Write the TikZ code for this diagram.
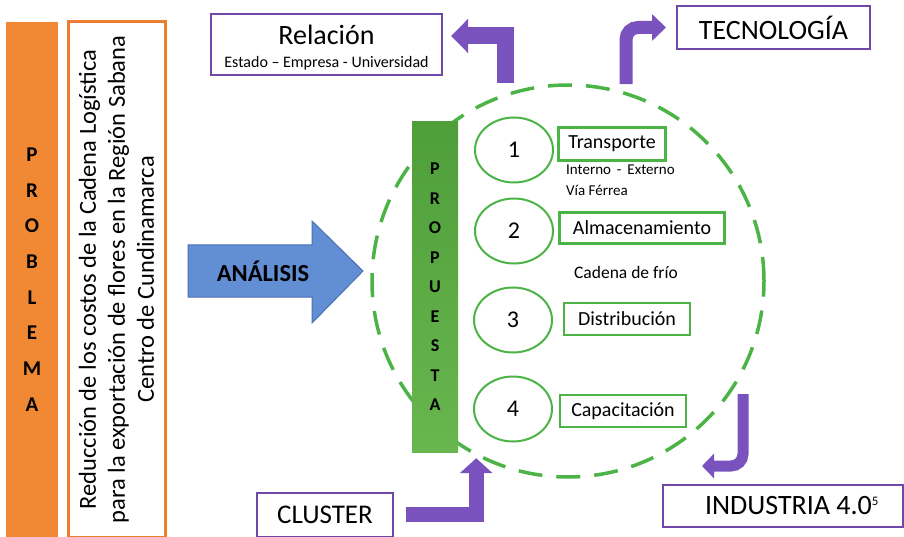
\documentclass[tikz,border=0pt]{standalone}
\usepackage{fontspec}
\setmainfont{Carlito}
\usetikzlibrary{arrows.meta, positioning, calc, shapes.geometric}
\definecolor{OrangeFill}{RGB}{240,136,52}
\definecolor{OrangeLine}{RGB}{237,125,49}
\definecolor{PurpleLine}{RGB}{112,72,170}
\definecolor{PurpleFill}{RGB}{122,82,190}
\definecolor{GreenLine}{RGB}{76,180,70}
\definecolor{GreenTop}{RGB}{78,158,58}
\definecolor{GreenBot}{RGB}{104,182,78}
\definecolor{BlueFill}{RGB}{98,142,212}
\definecolor{BlueLine}{RGB}{72,112,180}

\begin{document}
\begin{tikzpicture}[
    x=1pt, y=1pt,
    purplebox/.style={draw=PurpleLine, line width=2pt, fill=white, inner sep=0pt},
    greenbox/.style={draw=GreenLine, line width=2.5pt, fill=white, inner sep=0pt,
        font=\fontsize{20}{24}\selectfont},
    numcirc/.style={ellipse, draw=GreenLine, line width=2pt, fill=white,
        minimum width=78pt, minimum height=65pt, font=\fontsize{24}{28}\selectfont},
    note/.style={font=\fontsize{15}{21}\selectfont, align=left},
    bigarr/.style={draw=PurpleFill, line width=#1}
]
\useasboundingbox (0,0) rectangle (904,-537);

% ===================================================================
% PROBLEMA (left column)
% ===================================================================
\node[fill=OrangeFill, minimum width=52pt, minimum height=515pt, inner sep=0pt,
      align=center, font=\bfseries\fontsize{21}{35.7}\selectfont]
    (problema) at (32,-279.5) {P\\R\\O\\B\\L\\E\\M\\A};

\node[draw=OrangeLine, line width=3pt, fill=white, rotate=90,
      minimum width=515pt, minimum height=97pt, inner sep=0pt, align=center,
      font=\fontsize{24.5}{29}\selectfont]
    (reduccion) at (116.5,-279.5)
    {Reducción de los costos de la Cadena Logística\\
     para la exportación de flores en la Región Sabana\\
     Centro de Cundinamarca};

% ===================================================================
% ANALISIS arrow
% ===================================================================
\draw[fill=BlueFill, draw=BlueLine, line width=1pt]
    (188,-245) -- (312,-245) -- (312,-221) -- (363,-271)
    -- (312,-323) -- (312,-297) -- (188,-297) -- cycle;
\node[font=\bfseries\fontsize{24.5}{26}\selectfont] (analisis) at (263,-271) {ANÁLISIS};

% ===================================================================
% PROPUESTA (green bar and ring)
% ===================================================================
\node[circle, draw=GreenLine, line width=3.5pt, dash pattern=on 24pt off 14pt,
      minimum size=392pt, inner sep=0pt] (ring) at (568,-281) {};

\node[top color=GreenTop, bottom color=GreenBot, minimum width=46pt,
      minimum height=330pt, inner sep=0pt,
      font=\bfseries\fontsize{18}{29.5}\selectfont, align=center]
    (propuesta) at (435,-287) {P\\R\\O\\P\\U\\E\\S\\T\\A};

% Numbered items
\node[numcirc] (one)   at (514,-150) {1};
\node[numcirc] (two)   at (514,-231) {2};
\node[numcirc] (three) at (513,-320) {3};
\node[numcirc] (four)  at (513,-409) {4};

\node[greenbox, minimum width=107pt, minimum height=33pt] (transporte)  at (612,-144) {Transporte};
\node[greenbox, minimum width=165pt, minimum height=31pt] (almacen)     at (642,-228) {Almacenamiento};
\node[greenbox, minimum width=126pt, minimum height=32pt] (distrib)     at (627,-319) {Distribución};
\node[greenbox, minimum width=126pt, minimum height=32pt] (capacitacion) at (623,-411) {Capacitación};

\node[note, anchor=north west, inner sep=0pt] (transnote) at (566,-165)
    {Interno\, -\, Externo\\Vía Férrea};
\node[font=\fontsize{17.5}{20}\selectfont] (frio) at (626,-272) {Cadena de frío};

% ===================================================================
% PURPLE boxes
% ===================================================================
\node[purplebox, minimum width=231pt, minimum height=61pt] (rel) at (326.5,-44.5) {};
\node[font=\fontsize{28}{30}\selectfont] (reltitle) at (326.5,-35) {Relación};
\node[font=\fontsize{16}{18}\selectfont] (relsub) at (326.5,-63) {Estado -- Empresa - Universidad};

\node[purplebox, minimum width=193pt, minimum height=43pt,
      font=\fontsize{28}{30}\selectfont] (tec) at (773.5,-27.5) {TECNOLOGÍA};
\node[purplebox, minimum width=136pt, minimum height=44pt,
      font=\fontsize{27}{30}\selectfont] (cluster) at (325,-514.5) {CLUSTER};
\node[purplebox, minimum width=240pt, minimum height=42pt,
      font=\fontsize{28}{30}\selectfont] (industria) at (783,-506)
    {\hspace*{18pt}INDUSTRIA 4.0\textsuperscript{\fontsize{13}{14}\selectfont 5}};

% ===================================================================
% PURPLE bent arrows
% ===================================================================
\draw[bigarr=17pt, -{Triangle[length=17pt, width=33pt]}]
    ($(ring.north)+(-63,0)$) |- ($(rel.east)+(8,8.5)$);
\draw[bigarr=13pt, -{Triangle[length=14pt, width=26pt]}, rounded corners=12pt]
    ($(ring.north)+(58,-1)$) |- ($(tec.west)+(-10,0)$);
\draw[bigarr=11pt, -{Triangle[length=12pt, width=24pt]}, rounded corners=12pt]
    ($(industria.north)+(-40,90)$) |- ($(industria.north)+(-81,18)$);
\draw[bigarr=15pt, -{Triangle[length=15pt, width=32pt]}]
    ($(cluster.east)+(12,0)$) -| ($(propuesta.south east)+(18,-6)$);

\end{tikzpicture}
\end{document}
